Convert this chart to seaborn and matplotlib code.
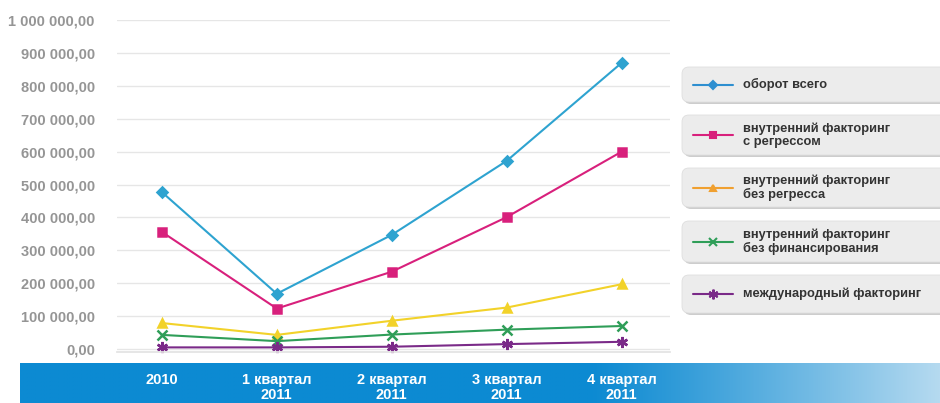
import numpy as np
import pandas as pd
import matplotlib
matplotlib.use("Agg")
import matplotlib.pyplot as plt
from matplotlib.patches import FancyBboxPatch
from matplotlib.lines import Line2D
import seaborn as sns

# ---- data ----
categories = ["2010", "1 квартал\n2011", "2 квартал\n2011", "3 квартал\n2011", "4 квартал\n2011"]
series_names = ["оборот всего",
                "внутренний факторинг\nс регрессом",
                "внутренний факторинг\nбез регресса",
                "внутренний факторинг\nбез финансирования",
                "международный факторинг"]
total = [477000, 168000, 347000, 572000, 870000]
with_recourse = [356000, 123000, 235000, 401000, 600000]
without_recourse = [79000, 43000, 86000, 126000, 197000]
without_financing = [43000, 24000, 44000, 59000, 70000]
international = [5000, 5000, 7000, 15000, 22000]
y_ticks = [0, 100000, 200000, 300000, 400000, 500000, 600000, 700000, 800000, 900000, 1000000]
y_labels = ["0,00", "100 000,00", "200 000,00", "300 000,00", "400 000,00", "500 000,00",
            "600 000,00", "700 000,00", "800 000,00", "900 000,00", "1 000 000,00"]

colors = ["#2ea3d0", "#d8207c", "#f2d22a", "#2f9e58", "#7a2a88"]
legend_colors = ["#2e8fd0", "#d8207c", "#f0a030", "#2f9e58", "#7a2a88"]
markers = ["D", "s", "^", "x", (6, 2, 0)]
msizes = [5, 6, 6, 7, 8]

values = [total, with_recourse, without_recourse, without_financing, international]

sns.set_theme(style="white")
plt.rcParams["font.family"] = ["Liberation Sans", "DejaVu Sans"]

W, H = 940, 403
fig = plt.figure(figsize=(W / 100, H / 100), dpi=100)
fig.patch.set_facecolor("white")

# ---- blue band at the bottom ----
band = fig.add_axes([20 / W, 0, (W - 20) / W, 40 / H], zorder=0)
n = 400
t = np.linspace(0, 1, n)
c0 = np.array([0x0c, 0x8a, 0xd2]) / 255
c1 = np.array([0xb5, 0xda, 0xf0]) / 255
f = np.clip((t - 0.62) / 0.38, 0, 1) ** 1.1
grad = c0[None, :] * (1 - f[:, None]) + c1[None, :] * f[:, None]
img = np.repeat(grad[None, :, :], 10, axis=0)
band.imshow(img, aspect="auto", extent=[0, 1, 0, 1])
band.set_axis_off()

# ---- main axes ----
x0, x1 = 117, 670
y_top, y_bot = 20, 352
ax = fig.add_axes([x0 / W, (H - y_bot) / H, (x1 - x0) / W, (y_bot - y_top) / H], zorder=2)
ax.patch.set_alpha(0)

for name, vals, col, mk, ms in zip(series_names, values, colors, markers, msizes):
    d = pd.DataFrame({"cat": list(range(len(categories))), "value": vals})
    sns.lineplot(data=d, x="cat", y="value", color=col, marker=mk, markersize=ms,
                 markeredgecolor=col, markerfacecolor=col, markeredgewidth=1.8,
                 linewidth=1.5, ax=ax, clip_on=False)

ax.set_xlim(-0.39, 4.42)
ax.set_ylim(-9000, 1000000)
ax.set_yticks(y_ticks)
ax.set_yticklabels(y_labels)
ax.set_xticks(range(len(categories)))
ax.set_xticklabels(categories)
ax.grid(axis="y", color="#e6e6e6", linewidth=1.0)
ax.set_axisbelow(True)
for s in ["top", "right", "left"]:
    ax.spines[s].set_visible(False)
ax.spines["bottom"].set_color("#e3e3e3")
ax.set_xlabel("")
ax.set_ylabel("")
ax.tick_params(axis="y", length=0, pad=16, labelsize=10.5, labelcolor="#959595")
ax.tick_params(axis="x", length=0, pad=15, labelsize=10.5, labelcolor="white")
for lbl in ax.get_yticklabels():
    lbl.set_fontweight("bold")
for lbl in ax.get_xticklabels():
    lbl.set_fontweight("bold")
    lbl.set_linespacing(1.1)

# ---- custom legend (separate boxes) ----
lax = fig.add_axes([0, 0, 1, 1], zorder=3)
lax.set_xlim(0, W)
lax.set_ylim(H, 0)
lax.set_axis_off()
boxes = [(67, 102), (115, 155), (168, 207), (221, 262), (275, 313)]
for (ya, yb), name, col, mk, ms in zip(boxes, series_names, legend_colors, markers, msizes):
    shadow = FancyBboxPatch((684, ya + 2), 270, yb - ya, boxstyle="round,pad=0,rounding_size=7",
                            facecolor="#cdcdcd", edgecolor="none", zorder=1)
    box = FancyBboxPatch((682, ya), 270, yb - ya, boxstyle="round,pad=0,rounding_size=7",
                         facecolor="#ececec", edgecolor="#dedede", linewidth=0.6, zorder=2)
    lax.add_patch(shadow)
    lax.add_patch(box)
    ym = (ya + yb) / 2
    lax.add_line(Line2D([693, 733], [ym, ym], color=col, linewidth=1.5, zorder=3))
    lax.add_line(Line2D([713], [ym], marker=mk, markersize=ms - 1, color=col,
                        markeredgecolor=col, markeredgewidth=1.5, zorder=4))
    lax.text(743, ym, name, va="center", ha="left", fontsize=9.3, fontweight="bold",
             color="#333333", linespacing=1.1, zorder=5)

fig.savefig("out.png", dpi=100)
